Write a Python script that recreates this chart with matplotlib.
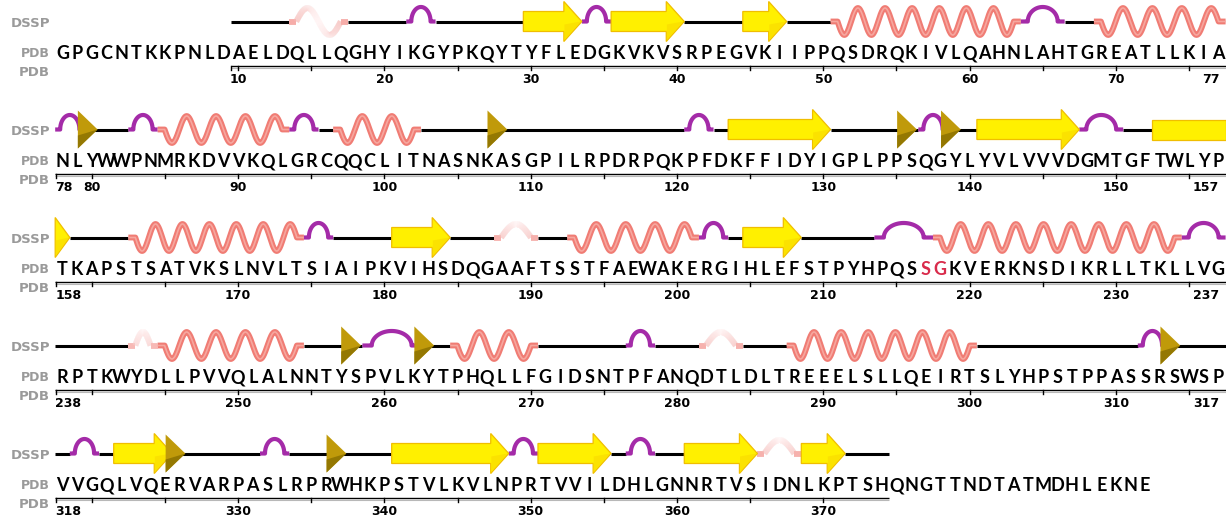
import numpy as np
import matplotlib
matplotlib.use("Agg")
import matplotlib.pyplot as plt
from matplotlib.patches import Polygon
from matplotlib.collections import LineCollection
from matplotlib import font_manager

# ---------------- data ----------------
sequence = ("GPGCNTKKPNLDAELDQLLQGHYIKGYPKQYTYFLEDGKVKVSRPEGVKIIPPQSDRQKIVLQAHNLAHTGREATLLKIA"
            "NLYWWPNMRKDVVKQLGRCQQCLITNASNKASGPILRPDRPQKPFDKFFIDYIGPLPPSQGYLYVLVVVDGMTGFTWLYP"
            "TKAPSTSATVKSLNVLTSIAIPKVIHSDQGAAFTSSTFAEWAKERGIHLEFSTPYHPQSSGKVERKNSDIKRLLTKLLVG"
            "RPTKWYDLLPVVQLALNNTYSPVLKYTPHQLLFGIDSNTPFANQDTLDLTREEELSLLQEIRTSLYHPSTPPASSRSWSP"
            "VVGQLVQERVARPASLRPRWHKPSTVLKVLNPRTVVILDHLGNNRTVSIDNLKPTSHQNGTTNDTATMDHLEKNE")
first_residue = -2
residues_per_row = 80
dssp_range = (10, 374)

helices = [(51, 63), (69, 77), (85, 93), (97, 102), (163, 174), (193, 201), (218, 234),
           (245, 254), (265, 270), (288, 300)]
helices_310 = [(14, 17), (188, 190), (243, 244), (282, 284), (366, 368)]
turns = [(22, 23), (34, 35), (64, 66), (78, 79), (83, 84), (94, 95), (121, 122), (137, 138),
         (148, 150), (175, 176), (202, 203), (214, 217), (235, 237), (259, 262), (277, 278),
         (312, 313), (319, 320), (332, 333), (349, 350), (357, 358)]
strands = [(30, 33), (36, 40), (45, 47), (124, 130), (141, 147), (153, 158), (181, 184),
           (205, 208), (322, 325), (341, 348), (351, 355), (361, 365), (369, 371)]
bridges = [80, 108, 136, 139, 258, 263, 314, 326, 337]
highlighted = [217, 218]

# ---------------- layout / style ----------------
FIG_W, FIG_H = 1226, 515
X0, CW = 62.5, 14.63
ROW_Y0, ROW_DY = 21.5, 108
AMP = 13.5
TURN_H = 14.5
LBL_X = 50

C_COIL = "#000000"
C_HELIX = "#F07C74"
C_HELIX_HI = "#F6A79F"
C_TURN = "#A42BA8"
C_STRAND = "#FFF000"
C_STRAND_EDGE = "#F0BE00"
C_BRIDGE = "#C09A0A"
C_BRIDGE_DARK = "#8A7000"
C_LABEL = "#9A9A9A"
C_RED = "#D92B4B"

avail = {f.name for f in font_manager.fontManager.ttflist}
SEQ_FONT = ["Liberation Sans Narrow", "DejaVu Sans"] if "Liberation Sans Narrow" in avail else ["Lato", "DejaVu Sans"]

n_res = len(sequence)
last_residue = first_residue + n_res - 1
n_rows = (n_res + residues_per_row - 1) // residues_per_row


def row_of(r):
    return (r - first_residue) // residues_per_row


def row_bounds(row):
    a = first_residue + row * residues_per_row
    return a, min(a + residues_per_row - 1, last_residue)


def xr(r, row):
    return X0 + CW * (r - first_residue - row * residues_per_row)


def yd(row):
    return ROW_Y0 + row * ROW_DY


def split(s, e):
    out = []
    for row in range(row_of(s), row_of(e) + 1):
        a, b = row_bounds(row)
        out.append((max(s, a), min(e, b), row, s < a, e > b))
    return out


fig = plt.figure(figsize=(FIG_W / 100, FIG_H / 100), dpi=100)
ax = fig.add_axes([0, 0, 1, 1])
ax.set_xlim(0, FIG_W)
ax.set_ylim(FIG_H, 0)
ax.axis("off")

# ---- coil ----
structured = set()
for lst in (helices, helices_310, turns, strands):
    for s, e in lst:
        structured.update(range(s, e + 1))
coil = [r for r in range(dssp_range[0], dssp_range[1] + 1) if r not in structured]
runs = []
for r in coil:
    if runs and runs[-1][1] == r - 1 and row_of(r) == row_of(runs[-1][0]):
        runs[-1][1] = r
    else:
        runs.append([r, r])
for s, e in runs:
    row = row_of(s)
    ax.plot([xr(s - 0.5, row), xr(e + 0.5, row)], [yd(row)] * 2, color=C_COIL, lw=2.2,
            solid_capstyle="butt", zorder=1)

# ---- helices ----
def wave(xa, xb, D, flat, half, sign):
    x1, x2 = xa + flat, xb - flat
    L = x2 - x1
    n = max(1, int(round(L / half)))
    xs = np.linspace(x1, x2, 300)
    ys = D + sign * AMP * np.sin(np.pi * n * (xs - x1) / L)
    return np.concatenate([[xa], xs, [xb]]), np.concatenate([[D], ys, [D]])


for s0, e0 in helices:
    for s, e, row, _, _ in split(s0, e0):
        X, Y = wave(xr(s - 0.5, row), xr(e + 0.5, row), yd(row), 7, 14.0, 1)
        ax.plot(X, Y, color=C_HELIX, lw=4.2, solid_capstyle="butt", solid_joinstyle="round", zorder=2)
        ax.plot(X, Y, color=C_HELIX_HI, lw=1.2, solid_capstyle="butt", zorder=2.1)

pink = np.array(matplotlib.colors.to_rgb("#F4A29D"))
white = np.array(matplotlib.colors.to_rgb("#FFF3F3"))
for s0, e0 in helices_310:
    for s, e, row, _, _ in split(s0, e0):
        xa, xb = xr(s - 0.5, row), xr(e + 0.5, row)
        X, Y = wave(xa, xb, yd(row), 7, 20, -1)
        pts = np.column_stack([X, Y])
        segs = np.stack([pts[:-1], pts[1:]], axis=1)
        xm = 0.5 * (X[:-1] + X[1:])
        t = np.clip(np.abs(xm - 0.5 * (xa + xb)) / (0.5 * (xb - xa)), 0, 1) ** 1.2
        cols = white[None, :] * (1 - t[:, None]) + pink[None, :] * t[:, None]
        ax.add_collection(LineCollection(segs, colors=cols, linewidths=4.2, capstyle="butt", zorder=2))

# ---- turns ----
for s0, e0 in turns:
    for s, e, row, _, _ in split(s0, e0):
        xa, xb = xr(s - 0.5, row), xr(e + 0.5, row)
        D = yd(row)
        L = xb - xa
        f = max(5.0, 0.16 * L)
        w = L - 2 * f
        xc = 0.5 * (xa + xb)
        t = np.linspace(np.pi, 0, 100)
        X = np.concatenate([[xa], xc + 0.5 * w * np.cos(t), [xb]])
        Y = np.concatenate([[D], D - TURN_H * np.sin(t), [D]])
        ax.plot(X, Y, color=C_TURN, lw=3.0, solid_capstyle="butt", solid_joinstyle="round", zorder=2)

# ---- strands ----
BH, HH, HL = 10, 20, 18
for s0, e0 in strands:
    for s, e, row, contl, contr in split(s0, e0):
        xa, xb = xr(s - 0.5, row), xr(e + 0.5, row)
        D = yd(row)
        if contr:
            poly = [(xa, D - BH), (xb, D - BH), (xb, D + BH), (xa, D + BH)]
        else:
            hl = min(HL, xb - xa)
            xh = xb - hl
            if xh - xa < 1:
                poly = [(xh, D - HH), (xb, D), (xh, D + HH)]
            else:
                poly = [(xa, D - BH), (xh, D - BH), (xh, D - HH), (xb, D), (xh, D + HH),
                        (xh, D + BH), (xa, D + BH)]
        ax.add_patch(Polygon(poly, closed=True, facecolor=C_STRAND, edgecolor=C_STRAND_EDGE,
                             lw=0.9, zorder=3))
        if not contr:
            hl = min(HL, xb - xa)
            xh = xb - hl
            ax.add_patch(Polygon([(xh + 0.6, D + 3), (xb - 1.2, D), (xh + 0.6, D + HH - 1.5)], closed=True,
                                 facecolor="#FBE200", edgecolor="none", zorder=3.1))

# ---- bridges ----
for r in bridges:
    row = row_of(r)
    D = yd(row)
    xl, xt = xr(r - 0.95, row), xr(r + 0.4, row)
    ax.add_patch(Polygon([(xl, D - 19), (xt, D), (xl, D + 19)], closed=True,
                         facecolor=C_BRIDGE, edgecolor="none", zorder=4))
    ax.add_patch(Polygon([(xl, D + 6), (xt, D), (xl, D + 19)], closed=True,
                         facecolor=C_BRIDGE_DARK, edgecolor="none", alpha=0.8, zorder=4.1))

# ---- text ----
for row in range(n_rows):
    D = yd(row)
    a, b = row_bounds(row)
    ax.text(LBL_X, D + 2, "DSSP", ha="right", va="center", fontsize=9.5, fontweight="bold",
            color=C_LABEL)
    ax.text(LBL_X, D + 32, "PDB", ha="right", va="center", fontsize=9.0, fontweight="bold",
            color=C_LABEL)
    ax.text(LBL_X, D + 51, "PDB", ha="right", va="center", fontsize=9.5, fontweight="bold",
            color=C_LABEL)
    for r in range(a, b + 1):
        ch = sequence[r - first_residue]
        ax.text(xr(r, row), D + 37.5, ch, ha="center", va="baseline", fontsize=13,
                fontweight="bold", family=SEQ_FONT,
                color=C_RED if r in highlighted else "black")
    # ruler
    ra, rb = max(a, dssp_range[0]), min(b, dssp_range[1])
    yl = D + 44.7
    ax.plot([xr(ra - 0.5, row), xr(rb + 0.5, row)], [yl, yl], color="black", lw=1.0,
            solid_capstyle="butt", zorder=1)
    ax.plot([xr(ra - 0.5, row), xr(rb + 0.5, row)], [yl + 1.6, yl + 1.6], color="#B8B8B8",
            lw=0.8, solid_capstyle="butt", zorder=1)
    ticks = [r for r in range(ra, rb + 1) if r % 5 == 0]
    for r in ticks:
        ax.plot([xr(r, row)] * 2, [yl, yl + 3.5], color="black", lw=1.0, zorder=1)
    ax.plot([xr(ra - 0.5, row) + 0.5] * 2, [yl, yl + 3.5], color="black", lw=1.0, zorder=1)
    left_end = None
    right_start = None
    NUM_FS = 9.0
    if ra == a:
        ax.text(xr(a - 0.5, row), D + 51.5, str(a), ha="left", va="top", fontsize=NUM_FS,
                fontweight="bold")
        left_end = xr(a - 0.5, row) + 7 * len(str(a))
    if rb == b:
        ax.text(xr(b, row) + 1, D + 51.5, str(b), ha="right", va="top", fontsize=NUM_FS,
                fontweight="bold")
        right_start = xr(b, row) + 1 - 7 * len(str(b))
    for r in range(ra, rb + 1):
        if r % 10 != 0 or r == a or r == b:
            continue
        half = 3.7 * len(str(r))
        xc = xr(r, row)
        if left_end is not None and xc - half - left_end < 8:
            continue
        if right_start is not None and right_start - (xc + half) < 8:
            continue
        ax.text(xc, D + 51.5, str(r), ha="center", va="top", fontsize=NUM_FS, fontweight="bold")

fig.savefig("out.png", dpi=100)
